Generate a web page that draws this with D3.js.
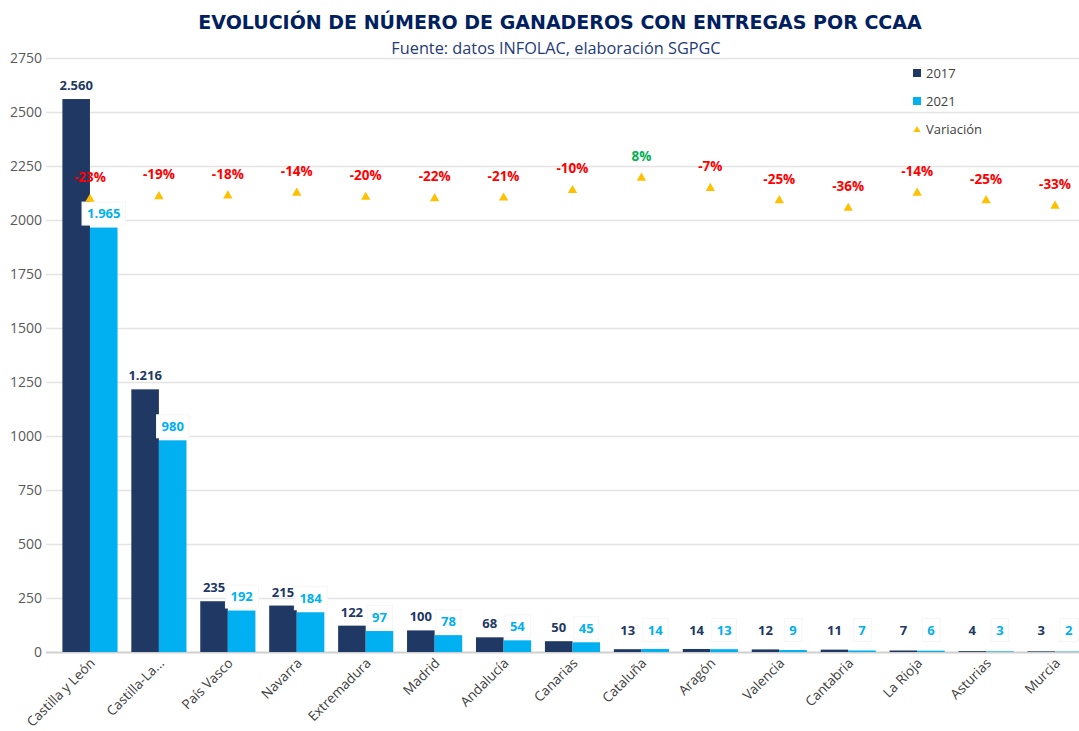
<!DOCTYPE html>
<html>
<head>
<meta charset="utf-8">
<script src="https://cdn.jsdelivr.net/npm/d3@7"></script>
<style>
  html, body { margin: 0; padding: 0; background: #fff; }
  svg { display: block; }
</style>
</head>
<body>
<svg id="chart" width="1079" height="731"></svg>
<script>
const categories = ["Castilla y León","Castilla-La...","País Vasco","Navarra","Extremadura","Madrid","Andalucía","Canarias","Cataluña","Aragón","Valencia","Cantabria","La Rioja","Asturias","Murcia"];
const values2017 = [2560,1216,235,215,122,100,68,50,13,14,12,11,7,4,3];
const values2021 = [1965,980,192,184,97,78,54,45,14,13,9,7,6,3,2];
const variation = [-23,-19,-18,-14,-20,-22,-21,-10,8,-7,-25,-36,-14,-25,-33];
const yTicks = [0,250,500,750,1000,1250,1500,1750,2000,2250,2500,2750];
const seriesNames = ["2017","2021","Variación"];

const C2017 = "#203864", C2021 = "#00B0F0", CTRI = "#FFC000";
const fmt = v => v >= 1000 ? d3.format(",")(v).replace(",", ".") : String(v);

const svg = d3.select("#chart");
const plot = { left: 46, right: 1079, top: 58, bottom: 652 };

const x = d3.scaleBand().domain(categories).range([55.5, 1089.5]).paddingInner(0.2).paddingOuter(0.1);
const y = d3.scaleLinear().domain([0, 2750]).range([plot.bottom, plot.top]);
const yVar = d3.scaleLinear().domain([-687, 184]).range([plot.bottom, plot.top]);

// Title
svg.append("text").attr("x", 560).attr("y", 29).attr("text-anchor", "middle")
  .attr("font-family", "DejaVu Sans").attr("font-weight", "bold").attr("font-size", 19)
  .attr("fill", "#002060")
  .text("EVOLUCIÓN DE NÚMERO DE GANADEROS CON ENTREGAS POR CCAA");
svg.append("text").attr("x", 556).attr("y", 54).attr("text-anchor", "middle")
  .attr("font-family", "Open Sans").attr("font-size", 16.3)
  .attr("fill", "#1F3A7A")
  .text("Fuente: datos INFOLAC, elaboración SGPGC");

// Gridlines
svg.append("g").selectAll("line").data(yTicks).join("line")
  .attr("x1", plot.left).attr("x2", plot.right)
  .attr("y1", d => Math.round(y(d)) + 0.5).attr("y2", d => Math.round(y(d)) + 0.5)
  .attr("stroke", d => d === 0 ? "#D0D0D0" : "#E4E4E4").attr("stroke-width", d => d === 0 ? 2 : 1.5);

// Y axis
const yAxis = svg.append("g").attr("transform", `translate(${plot.left},0)`)
  .call(d3.axisLeft(y).tickValues(yTicks).tickFormat(d3.format("d")).tickSize(0).tickPadding(4));
yAxis.select(".domain").remove();
yAxis.selectAll("text").attr("font-family", "Open Sans").attr("font-size", 14).attr("fill", "#595959");

// X axis labels
const xAxis = svg.append("g").attr("transform", `translate(0,${plot.bottom})`)
  .call(d3.axisBottom(x).tickSize(0).tickPadding(0));
xAxis.select(".domain").remove();
xAxis.selectAll("text")
  .attr("font-family", "Open Sans").attr("font-size", 13.5).attr("fill", "#404040")
  .attr("text-anchor", "end")
  .attr("dy", 0)
  .attr("transform", "translate(6,12) rotate(-45)");

const bw = x.bandwidth() / 2;

// Bars 2017
svg.append("g").selectAll("rect").data(categories).join("rect")
  .attr("x", d => x(d)).attr("width", bw)
  .attr("y", (d, i) => y(values2017[i])).attr("height", (d, i) => y(0) - y(values2017[i]))
  .attr("fill", C2017);
// Bars 2021
svg.append("g").selectAll("rect").data(categories).join("rect")
  .attr("x", d => x(d) + bw).attr("width", bw)
  .attr("y", (d, i) => y(values2021[i])).attr("height", (d, i) => y(0) - y(values2021[i]))
  .attr("fill", C2021);

// Labels 2017
svg.append("g").selectAll("text").data(categories).join("text")
  .attr("x", d => x(d) + bw / 2)
  .attr("y", (d, i) => Math.min(y(values2017[i]), y(0) - 8) - 9)
  .attr("text-anchor", "middle")
  .attr("font-family", "Open Sans").attr("font-weight", "bold").attr("font-size", 13)
  .attr("fill", C2017)
  .text((d, i) => fmt(values2017[i]));

// Labels 2021 with white boxes
const g21 = svg.append("g").selectAll("g").data(categories).join("g")
  .attr("transform", (d, i) => `translate(${x(d) + bw * 1.5},${Math.min(y(values2021[i]), y(0) - 8) - 14})`);
g21.each(function(d, i) {
  const g = d3.select(this);
  const t = g.append("text").attr("text-anchor", "middle").attr("dy", "0.35em")
    .attr("font-family", "Open Sans").attr("font-weight", "bold").attr("font-size", 13)
    .attr("fill", C2021).text(fmt(values2021[i]));
  const bb = t.node().getBBox();
  g.insert("rect", "text").attr("x", bb.x - 5).attr("y", -11.5).attr("width", bb.width + 10).attr("height", 23)
    .attr("fill", "#fff").attr("stroke", "#F6F6F6").attr("stroke-width", 1);
});

// Variation triangles
const tri = d3.symbol().type(d3.symbolTriangle).size(38);
svg.append("g").selectAll("path").data(categories).join("path")
  .attr("d", tri)
  .attr("transform", (d, i) => `translate(${x(d) + bw},${yVar(variation[i])})`)
  .attr("fill", CTRI);
svg.append("g").selectAll("text").data(categories).join("text")
  .attr("x", d => x(d) + bw)
  .attr("y", (d, i) => yVar(variation[i]) - 17)
  .attr("text-anchor", "middle")
  .attr("font-family", "Open Sans").attr("font-weight", "bold").attr("font-size", 13.5)
  .attr("fill", (d, i) => variation[i] >= 0 ? "#00B050" : "#FF0000")
  .text((d, i) => variation[i] + "%");

// Legend
const leg = svg.append("g").attr("transform", "translate(913,0)");
const legY = [73, 101, 129];
seriesNames.forEach((n, i) => {
  if (i < 2) {
    leg.append("rect").attr("x", 0).attr("y", legY[i] - 4).attr("width", 8).attr("height", 8)
      .attr("fill", i === 0 ? C2017 : C2021);
  } else {
    leg.append("path").attr("d", d3.symbol().type(d3.symbolTriangle).size(22))
      .attr("transform", `translate(4,${legY[i] + 1})`).attr("fill", CTRI);
  }
  leg.append("text").attr("x", 13).attr("y", legY[i]).attr("dy", "0.35em")
    .attr("font-family", "Open Sans").attr("font-size", 13).attr("fill", "#404040").text(n);
});
</script>
</body>
</html>
